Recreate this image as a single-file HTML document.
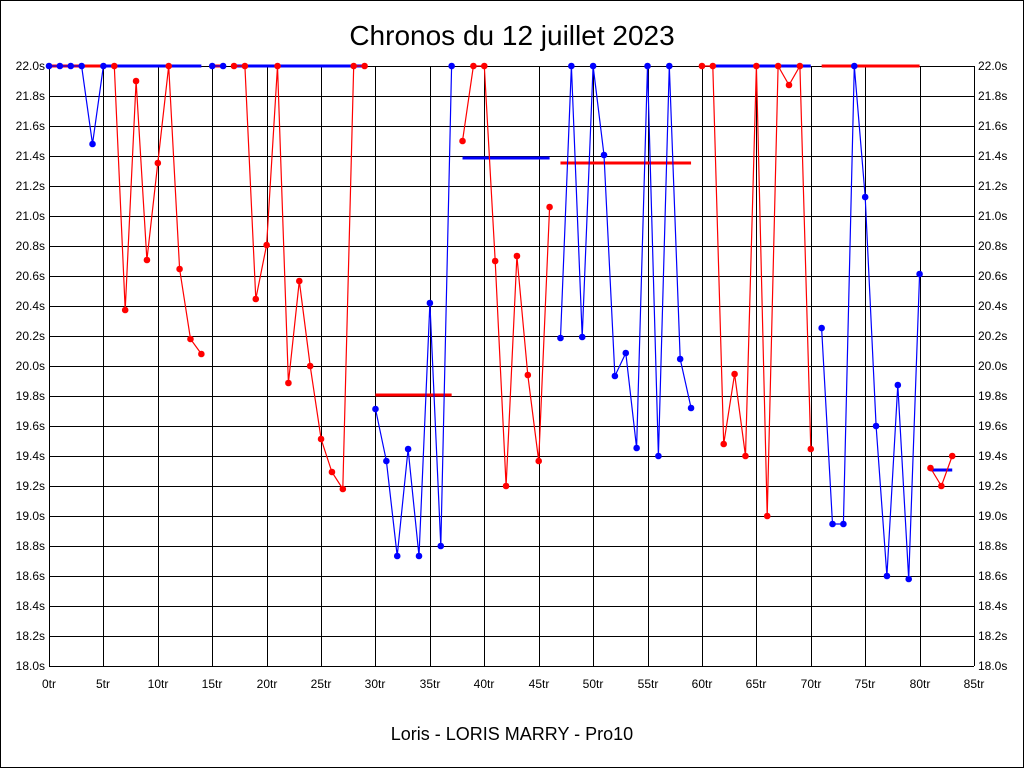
<!DOCTYPE html>
<html><head><meta charset="utf-8"><style>
html,body{margin:0;padding:0;background:#fff;}
svg{display:block;font-family:"Liberation Sans",sans-serif;}
</style></head><body>
<svg id="s" width="1024" height="768" viewBox="0 0 1024 768" xmlns="http://www.w3.org/2000/svg">
<rect x="0.5" y="0.5" width="1023" height="767" fill="#fff" stroke="#000"/>
<text x="512" y="45" font-size="28" text-anchor="middle">Chronos du 12 juillet 2023</text>
<text x="512" y="740" font-size="18" text-anchor="middle">Loris - LORIS MARRY - Pro10</text>
<g id="grid" stroke="#000" stroke-width="1"></g>
<g font-size="12" id="lbl">
<text x="45" y="70" text-anchor="end">22.0s</text><text x="978" y="70">22.0s</text>
<text x="45" y="100" text-anchor="end">21.8s</text><text x="978" y="100">21.8s</text>
<text x="45" y="130" text-anchor="end">21.6s</text><text x="978" y="130">21.6s</text>
<text x="45" y="160" text-anchor="end">21.4s</text><text x="978" y="160">21.4s</text>
<text x="45" y="190" text-anchor="end">21.2s</text><text x="978" y="190">21.2s</text>
<text x="45" y="220" text-anchor="end">21.0s</text><text x="978" y="220">21.0s</text>
<text x="45" y="250" text-anchor="end">20.8s</text><text x="978" y="250">20.8s</text>
<text x="45" y="280" text-anchor="end">20.6s</text><text x="978" y="280">20.6s</text>
<text x="45" y="310" text-anchor="end">20.4s</text><text x="978" y="310">20.4s</text>
<text x="45" y="340" text-anchor="end">20.2s</text><text x="978" y="340">20.2s</text>
<text x="45" y="370" text-anchor="end">20.0s</text><text x="978" y="370">20.0s</text>
<text x="45" y="400" text-anchor="end">19.8s</text><text x="978" y="400">19.8s</text>
<text x="45" y="430" text-anchor="end">19.6s</text><text x="978" y="430">19.6s</text>
<text x="45" y="460" text-anchor="end">19.4s</text><text x="978" y="460">19.4s</text>
<text x="45" y="490" text-anchor="end">19.2s</text><text x="978" y="490">19.2s</text>
<text x="45" y="520" text-anchor="end">19.0s</text><text x="978" y="520">19.0s</text>
<text x="45" y="550" text-anchor="end">18.8s</text><text x="978" y="550">18.8s</text>
<text x="45" y="580" text-anchor="end">18.6s</text><text x="978" y="580">18.6s</text>
<text x="45" y="610" text-anchor="end">18.4s</text><text x="978" y="610">18.4s</text>
<text x="45" y="640" text-anchor="end">18.2s</text><text x="978" y="640">18.2s</text>
<text x="45" y="670" text-anchor="end">18.0s</text><text x="978" y="670">18.0s</text>
</g>
<g font-size="12" text-anchor="middle">
<text x="49" y="688">0tr</text><text x="103" y="688">5tr</text><text x="158" y="688">10tr</text>
<text x="212" y="688">15tr</text><text x="267" y="688">20tr</text><text x="321" y="688">25tr</text>
<text x="375" y="688">30tr</text><text x="430" y="688">35tr</text><text x="484" y="688">40tr</text>
<text x="539" y="688">45tr</text><text x="593" y="688">50tr</text><text x="648" y="688">55tr</text>
<text x="702" y="688">60tr</text><text x="756" y="688">65tr</text><text x="811" y="688">70tr</text>
<text x="865" y="688">75tr</text><text x="920" y="688">80tr</text><text x="974" y="688">85tr</text>
</g>
<g id="data"></g>
</svg>
<script>
var NS="http://www.w3.org/2000/svg";
function X(t){return 49+t*925/85;}
function el(p,n,a){var e=document.createElementNS(NS,n);for(var k in a)e.setAttribute(k,a[k]);p.appendChild(e);return e;}
var g=document.getElementById('grid');
for(var i=0;i<=20;i++){var y=66+i*30;el(g,'line',{x1:49,x2:974,y1:y+.5,y2:y+.5});}
for(var k=0;k<=17;k++){var x=Math.round(X(k*5))+.5;el(g,'line',{x1:x,x2:x,y1:66,y2:666});}
var d=document.getElementById('data');
function hl(a,b,y,c){el(d,'line',{x1:X(a),x2:X(b),y1:y,y2:y,stroke:c,'stroke-width':3});}
hl(0,5,66,'red');hl(5,14,66,'blue');hl(15,16,66,'red');hl(17,29,66,'blue');
hl(30,37,395,'red');hl(38,46,158,'blue');hl(47,59,163,'red');hl(61,70,66,'blue');hl(71,80,66,'red');hl(81,83,470,'blue');
var S=[
['blue',[[0,66],[1,66],[2,66],[3,66],[4,144],[5,66]]],
['red',[[6,66],[7,310],[8,81],[9,260],[10,163],[11,66],[12,269],[13,339],[14,354]]],
['blue',[[15,66],[16,66]]],
['red',[[17,66],[18,66],[19,299],[20,245],[21,66],[22,383],[23,281],[24,366],[25,439],[26,472],[27,489],[28,66],[29,66]]],
['blue',[[30,409],[31,461],[32,556],[33,449],[34,556],[35,303],[36,546],[37,66]]],
['red',[[38,141],[39,66],[40,66],[41,261],[42,486],[43,256],[44,375],[45,461],[46,207]]],
['blue',[[47,338],[48,66],[49,337],[50,66],[51,155],[52,376],[53,353],[54,448],[55,66],[56,456],[57,66],[58,359],[59,408]]],
['red',[[60,66],[61,66],[62,444],[63,374],[64,456],[65,66],[66,516],[67,66],[68,85],[69,66],[70,449]]],
['blue',[[71,328],[72,524],[73,524],[74,66],[75,197],[76,426],[77,576],[78,385],[79,579],[80,274]]],
['red',[[81,468],[82,486],[83,456]]]
];
S.forEach(function(s){var pts=s[1].map(function(p){return X(p[0]).toFixed(1)+','+p[1];}).join(' ');
el(d,'polyline',{points:pts,fill:'none',stroke:s[0],'stroke-width':1.2});
s[1].forEach(function(p){el(d,'circle',{cx:X(p[0]),cy:p[1],r:3.3,fill:s[0]});});});
</script>
</body></html>
